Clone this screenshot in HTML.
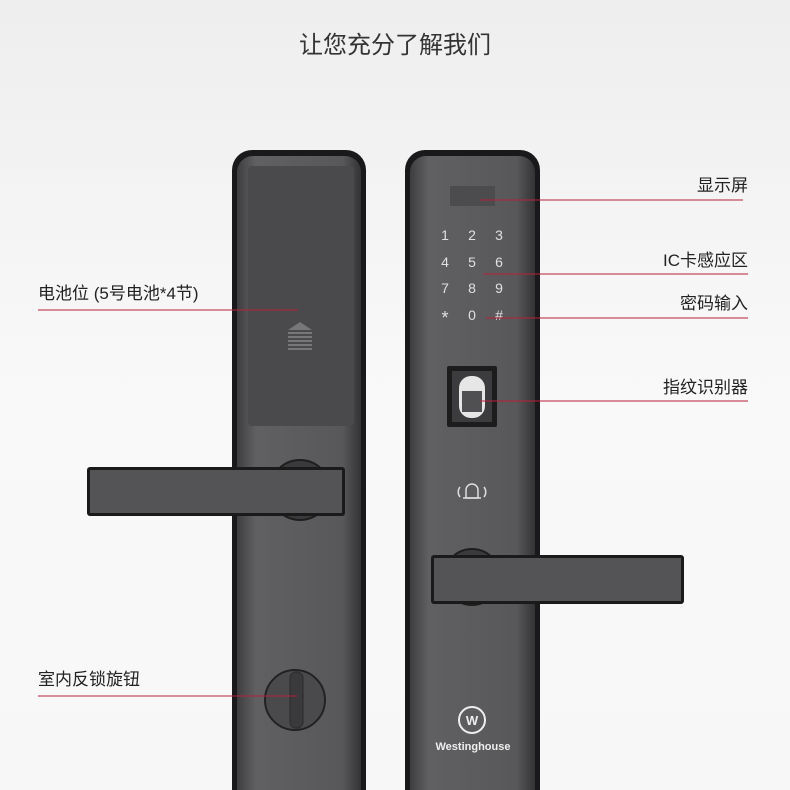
<!DOCTYPE html>
<html><head><meta charset="utf-8"><style>
html,body{margin:0;padding:0;width:790px;height:790px;overflow:hidden;background:#f5f5f5}
svg{display:block}
text{font-family:"Liberation Sans","Noto Sans CJK SC",sans-serif}
</style></head><body>
<svg width="790" height="790" viewBox="0 0 790 790" xmlns="http://www.w3.org/2000/svg">
<defs>
<linearGradient id="bg" x1="0" y1="0" x2="0" y2="1"><stop offset="0" stop-color="#eeeeee"/><stop offset="0.5" stop-color="#f9f9f9"/><stop offset="1" stop-color="#f7f7f7"/></linearGradient>
<linearGradient id="face" x1="0" y1="0" x2="1" y2="0"><stop offset="0" stop-color="#3e3e40"/><stop offset="0.15" stop-color="#606062"/><stop offset="0.85" stop-color="#58585a"/><stop offset="1" stop-color="#333335"/></linearGradient>
</defs>
<rect width="790" height="790" fill="url(#bg)"/>
<text x="395" y="53" font-size="24" text-anchor="middle" fill="#333">让您充分了解我们</text>

<!-- Left lock -->
<rect x="232" y="150" width="134" height="660" rx="20" fill="#19191b"/>
<rect x="237" y="156" width="124" height="650" rx="16" fill="url(#face)"/>
<rect x="248" y="166" width="106" height="260" rx="4" fill="#4a4a4c"/>
<g fill="#77777a"><polygon points="300,322 288,330 312,330"/><rect x="288" y="332" width="24" height="2"/><rect x="288" y="336" width="24" height="2"/><rect x="288" y="340" width="24" height="2"/><rect x="288" y="344" width="24" height="2"/><rect x="288" y="348" width="24" height="2"/></g>
<circle cx="300" cy="490" r="30" fill="#3a3a3c" stroke="#1e1e1e" stroke-width="2"/>
<rect x="87" y="467" width="258" height="49" rx="3" fill="#1a1a1a"/>
<rect x="90" y="470" width="252" height="43" fill="#545456"/>
<circle cx="295" cy="700" r="30" fill="#4a4a4c" stroke="#222" stroke-width="2"/>
<rect x="290" y="672" width="13" height="56" rx="6" fill="#3a3a3c" stroke="#2a2a2a"/>

<!-- Right lock -->
<rect x="405" y="150" width="135" height="660" rx="20" fill="#19191b"/>
<rect x="410" y="156" width="125" height="650" rx="16" fill="url(#face)"/>
<rect x="450" y="186" width="45" height="20" fill="#4c4c4e"/>
<g fill="#e0e0e0" font-size="14" text-anchor="middle">
<text x="445" y="240">1</text><text x="472" y="240">2</text><text x="499" y="240">3</text>
<text x="445" y="267">4</text><text x="472" y="267">5</text><text x="499" y="267">6</text>
<text x="445" y="293">7</text><text x="472" y="293">8</text><text x="499" y="293">9</text>
<text x="445" y="324" font-size="18">*</text><text x="472" y="320">0</text><text x="499" y="320">#</text>
</g>
<rect x="447" y="366" width="50" height="61" rx="2" fill="#1c1c1c"/>
<rect x="452" y="371" width="40" height="51" fill="#3c3c3e"/>
<rect x="459" y="376" width="26" height="42" rx="12" fill="#e6e6e6"/>
<rect x="462" y="391" width="20" height="21" fill="#505052"/>
<g stroke="#ddd" stroke-width="1.5" fill="none">
<path d="M466,498 L466,490 A6,6 0 0 1 478,490 L478,498 Z"/>
<line x1="463" y1="498" x2="481" y2="498"/>
<path d="M460,487 A8,8 0 0 0 460,497"/><path d="M484,487 A8,8 0 0 1 484,497"/>
</g>
<circle cx="472" cy="577" r="28" fill="#3a3a3c" stroke="#1e1e1e" stroke-width="2"/>
<rect x="431" y="555" width="253" height="49" rx="3" fill="#1a1a1a"/>
<rect x="434" y="558" width="247" height="43" fill="#545456"/>
<circle cx="472" cy="720" r="13" fill="none" stroke="#eee" stroke-width="2"/>
<text x="472" y="725" font-size="13" font-weight="bold" text-anchor="middle" fill="#eee">W</text>
<text x="473" y="750" font-size="11" font-weight="bold" text-anchor="middle" fill="#eee">Westinghouse</text>

<!-- Labels -->
<g stroke="#b8203a" stroke-width="1">
<line x1="480" y1="200" x2="743" y2="200"/>
<line x1="483" y1="274" x2="748" y2="274"/>
<line x1="486" y1="318" x2="748" y2="318"/>
<line x1="480" y1="401" x2="748" y2="401"/>
<line x1="38" y1="310" x2="298" y2="310"/>
<line x1="38" y1="696" x2="297" y2="696"/>
</g>
<g font-size="17" fill="#222">
<text x="748" y="191" text-anchor="end">显示屏</text>
<text x="748" y="266" text-anchor="end">IC卡感应区</text>
<text x="748" y="309" text-anchor="end">密码输入</text>
<text x="748" y="393" text-anchor="end">指纹识别器</text>
<text x="38" y="299">电池位 (5号电池*4节)</text>
<text x="38" y="685">室内反锁旋钮</text>
</g>
</svg>
</body></html>
